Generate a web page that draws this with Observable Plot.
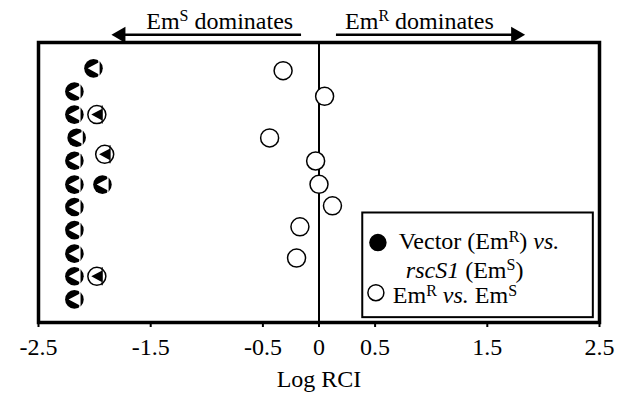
<!DOCTYPE html>
<html><head><meta charset="utf-8">
<script src="https://cdn.jsdelivr.net/npm/d3@7"></script>
<script src="https://cdn.jsdelivr.net/npm/@observablehq/plot@0.6"></script>
<style>
body{margin:0;background:#fff}
svg text, svg tspan { font-family: "Liberation Serif", "Times New Roman", serif !important; }
</style>
</head><body><div id="chart"></div>
<script>
// Vector (EmR) vs. rscS1 (EmS): Log RCI values and row positions
const vectorX = [-2.01, -2.18, -2.18, -1.98, -2.16, -2.18, -1.91, -2.18, -1.93, -2.18, -2.18, -2.18, -2.18, -1.98, -2.18];
const vectorRow = [1, 2, 3, 3, 4, 5, 4.72, 6.03, 6.03, 7, 8, 9.02, 10, 10, 11];
const vectorGlyph = ["filled","filled","filled","outlined","filled","filled","outlined","filled","filled","filled","filled","filled","filled","outlined","filled"];
// EmR vs. EmS
const emX = [-0.32, 0.05, -0.44, -0.03, 0.0, 0.12, -0.17, -0.2];
const emRow = [1.1, 2.21, 4.01, 5.01, 6.02, 6.95, 7.86, 9.21];
const xTicks = [-2.5, -1.5, -0.5, 0, 0.5, 1.5, 2.5];
const legendLabels = ["Vector (Em^R) *vs.*", "*rscS1* (Em^S)", "Em^R *vs.* Em^S"];
const topLabels = ["Em^S dominates", "Em^R dominates"];
const axisLabel = "Log RCI";

const vector = vectorX.map((x, i) => ({x, row: vectorRow[i], glyph: vectorGlyph[i]}));
const filled = vector.filter(d => d.glyph === "filled");
const outlined = vector.filter(d => d.glyph === "outlined");
const em = emX.map((x, i) => ({x, row: emRow[i]}));

// cut-out glyph: left-pointing triangle with slit, relative to circle radius
const cutSymbol = {
  draw(ctx, size) {
    const r = Math.sqrt(size / Math.PI);
    ctx.moveTo(-0.62 * r, 0);
    ctx.lineTo(0.55 * r, -0.62 * r);
    ctx.lineTo(0.55 * r, 0.62 * r);
    ctx.closePath();
    ctx.moveTo(0.52 * r, -r);
    ctx.lineTo(0.66 * r, -r);
    ctx.lineTo(0.66 * r, r);
    ctx.lineTo(0.52 * r, r);
    ctx.closePath();
  }
};

const legendBox = [{x1: 0.39, x2: 2.445, y1: 7.26, y2: 11.79}];
const legendDots = [{x: 0.525, y: 8.54, fill: "black"}, {x: 0.507, y: 10.71, fill: "white"}];
const legendText = [
  {x: 0.71, y: 8.5, t: legendLabels[0]},
  {x: 0.774, y: 9.72, t: legendLabels[1]},
  {x: 0.658, y: 10.84, t: legendLabels[2]}
];
const topText = [{x: -0.885, y: -1.05, t: topLabels[0]}, {x: 0.895, y: -1.05, t: topLabels[1]}];
const arrowLines = [{x1: -0.16, x2: -1.80, y: -0.452}, {x1: 0.151, x2: 1.79, y: -0.452}];
const arrowHeads = [{x: -1.767, y: -0.452, rot: -90}, {x: 1.754, y: -0.452, rot: 90}];

const serif = "'Liberation Serif', 'Times New Roman', serif";
const plot = Plot.plot({
  width: 619, height: 397,
  marginLeft: 38, marginRight: 20, marginTop: 42, marginBottom: 75,
  style: {fontFamily: serif, fontSize: "24px", background: "white", color: "black", overflow: "visible"},
  x: {domain: [-2.5, 2.5]},
  y: {domain: [-0.12, 12], reverse: true, axis: null},
  marks: [
    Plot.ruleX([0], {strokeWidth: 2}),
    Plot.frame({strokeWidth: 3.5}),
    Plot.axisX({ticks: xTicks, tickSize: 5, tickPadding: 10, tickFormat: d => String(d), label: null, strokeWidth: 2, fontFamily: serif, fontSize: 24}),
    Plot.text([axisLabel], {frameAnchor: "bottom", dy: 57, lineAnchor: "middle", fontFamily: serif, fontSize: 24}),
    // open circles
    Plot.dot(em, {x: "x", y: "row", r: 9, fill: "white", stroke: "black", strokeWidth: 1.5}),
    // filled glyphs
    Plot.dot(filled, {x: "x", y: "row", r: 9.3, fill: "black"}),
    Plot.dot(filled, {x: "x", y: "row", r: 9.3, symbol: cutSymbol, fill: "white"}),
    // outlined glyphs
    Plot.dot(outlined, {x: "x", y: "row", r: 9, fill: "white", stroke: "black", strokeWidth: 1.5}),
    Plot.dot(outlined, {x: "x", y: "row", r: 9, symbol: cutSymbol, fill: "black"}),
    // top annotations
    Plot.link(arrowLines, {x1: "x1", x2: "x2", y1: "y", y2: "y", strokeWidth: 2.5}),
    Plot.dot(arrowHeads, {x: "x", y: "y", r: 6, symbol: "triangle", rotate: "rot", fill: "black"}),
    Plot.text(topText, {x: "x", y: "y", text: "t", lineAnchor: "middle", fontFamily: serif, fontSize: 24}),
    // legend
    Plot.rect(legendBox, {x1: "x1", x2: "x2", y1: "y1", y2: "y2", fill: "white", stroke: "black", strokeWidth: 2}),
    Plot.dot(legendDots, {x: "x", y: "y", r: 8, fill: "fill", stroke: "black", strokeWidth: 1.5}),
    Plot.text(legendText, {x: "x", y: "y", text: "t", textAnchor: "start", lineAnchor: "middle", fontFamily: serif, fontSize: 24})
  ]
});

function richify(root) {
  const NS = "http://www.w3.org/2000/svg";
  root.querySelectorAll("text").forEach(t => {
    const s = t.textContent;
    if (!/[\^*]/.test(s)) return;
    const segs = [];
    let italic = false, cur = "";
    const push = (text, sup) => { if (text) segs.push({text, italic, sup}); };
    for (let i = 0; i < s.length; i++) {
      const c = s[i];
      if (c === "*") { push(cur, false); cur = ""; italic = !italic; }
      else if (c === "^") { push(cur, false); cur = ""; push(s[i + 1], true); i++; }
      else cur += c;
    }
    push(cur, false);
    t.textContent = "";
    let raised = false;
    segs.forEach(g => {
      const ts = document.createElementNS(NS, "tspan");
      ts.textContent = g.text;
      if (g.italic) ts.setAttribute("font-style", "italic");
      if (g.sup) {
        ts.setAttribute("font-size", "16px");
        if (!raised) { ts.setAttribute("dy", "-7.5"); raised = true; }
      } else if (raised) { ts.setAttribute("dy", "7.5"); raised = false; }
      t.appendChild(ts);
    });
  });
}
richify(plot);
document.getElementById("chart").appendChild(plot);
</script>
</body></html>
